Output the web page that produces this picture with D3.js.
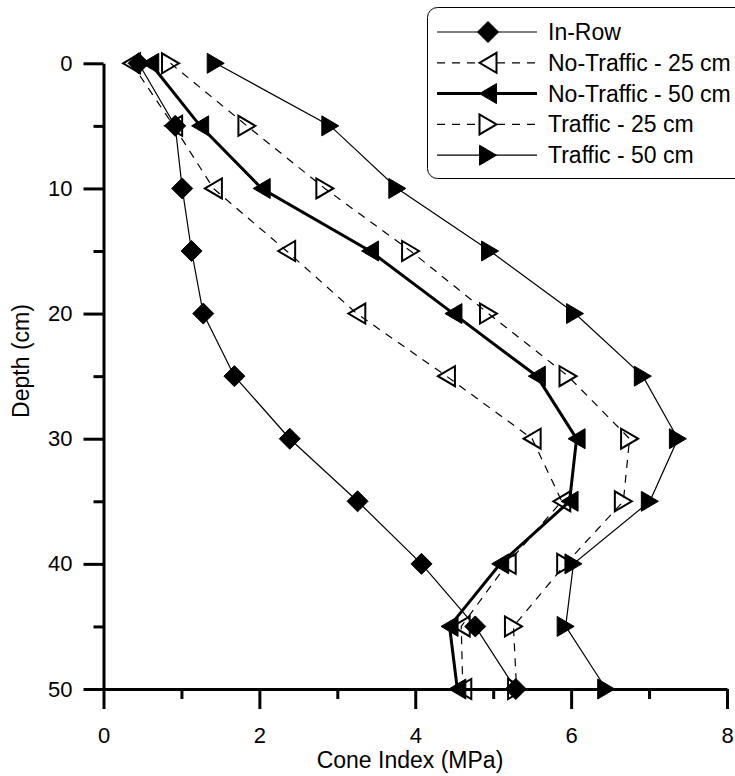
<!DOCTYPE html>
<html>
<head>
<meta charset="utf-8">
<script src="https://cdn.jsdelivr.net/npm/d3@7"></script>
<style>
  body { margin: 0; background: #fff; }
  svg text { font-family: "Liberation Sans", Arial, sans-serif; fill: #000; }
</style>
</head>
<body>
<svg id="chart" width="735" height="776"></svg>
<script>
// depth (cm) and cone index (MPa)
var depths = [0, 5, 10, 15, 20, 25, 30, 35, 40, 45, 50]
var inRow = [0.45, 0.92, 1.01, 1.13, 1.28, 1.68, 2.39, 3.26, 4.08, 4.77, 5.29]
var noTraffic25 = [0.36, 0.9, 1.41, 2.35, 3.25, 4.4, 5.5, 5.88, 5.18, 4.59, 4.61]
var noTraffic50 = [0.6, 1.24, 2.03, 3.42, 4.49, 5.56, 6.07, 5.98, 5.09, 4.44, 4.54]
var traffic25 = [0.86, 1.84, 2.84, 3.94, 4.94, 5.96, 6.75, 6.67, 5.93, 5.26, 5.3]
var traffic50 = [1.44, 2.91, 3.77, 4.96, 6.05, 6.92, 7.37, 7.01, 6.03, 5.93, 6.45]
var seriesNames = ["In-Row", "No-Traffic - 25 cm", "No-Traffic - 50 cm", "Traffic - 25 cm", "Traffic - 50 cm"]
var xTicks = [0, 2, 4, 6, 8]
var yTicks = [0, 10, 20, 30, 40, 50]

var svg = d3.select("#chart")
var x = d3.scaleLinear().domain([0, 8]).range([103.5, 727])
var y = d3.scaleLinear().domain([0, 50]).range([63.3, 689])

// marker + line style per series
var styles = [
  {values: inRow, shape: "diamond", fill: true, width: 1.2, dash: null},
  {values: noTraffic25, shape: "left", fill: false, width: 1.2, dash: "8,7"},
  {values: noTraffic50, shape: "left", fill: true, width: 3, dash: null},
  {values: traffic25, shape: "right", fill: false, width: 1.2, dash: "8,7"},
  {values: traffic50, shape: "right", fill: true, width: 1.2, dash: null}
]

function markerPath(shape) {
  if (shape == "diamond") return "M0,-10.5L10.5,0L0,10.5L-10.5,0Z"
  if (shape == "left") return "M-8.5,0L8.5,-10L8.5,10Z"
  return "M8.5,0L-8.5,-10L-8.5,10Z"
}

// axes
var gy = svg.append("g").attr("transform", "translate(" + x(0) + ",0)")
gy.call(d3.axisLeft(y).tickValues(yTicks).tickSize(20).tickSizeOuter(0).tickPadding(11))
gy.append("g").call(d3.axisLeft(y).tickValues([5, 15, 25, 35, 45]).tickSize(10).tickFormat(""))
  .select(".domain").remove()

var gx = svg.append("g").attr("transform", "translate(0," + y(50) + ")")
gx.call(d3.axisBottom(x).tickValues(xTicks).tickSize(20).tickSizeOuter(0).tickPadding(18))
gx.append("g").call(d3.axisBottom(x).tickValues([1, 3, 5, 7]).tickSize(10).tickFormat(""))
  .select(".domain").remove()

svg.selectAll(".domain").attr("stroke", "#000").attr("stroke-width", 3)
svg.selectAll(".tick line").attr("stroke", "#000").attr("stroke-width", 3)
svg.selectAll(".tick text").attr("font-size", 22).attr("font-family", "Liberation Sans, Arial, sans-serif").attr("fill", "#000")

svg.append("text")
  .attr("x", 410).attr("y", 768)
  .attr("text-anchor", "middle")
  .attr("font-size", 23)
  .text("Cone Index (MPa)")

svg.append("text")
  .attr("transform", "translate(29,361) rotate(-90)")
  .attr("text-anchor", "middle")
  .attr("font-size", 23)
  .text("Depth (cm)")

// series lines + markers
var line = d3.line().x(d => x(d[0])).y(d => y(d[1]))
styles.forEach(function(s) {
  var pts = depths.map((d, i) => [s.values[i], d])
  svg.append("path")
    .attr("d", line(pts))
    .attr("fill", "none")
    .attr("stroke", "#000")
    .attr("stroke-width", s.width)
    .attr("stroke-dasharray", s.dash)
})
styles.forEach(function(s) {
  svg.append("g").selectAll("path")
    .data(depths.map((d, i) => [s.values[i], d]))
    .join("path")
    .attr("transform", d => "translate(" + x(d[0]) + "," + y(d[1]) + ")")
    .attr("d", markerPath(s.shape))
    .attr("fill", s.fill ? "#000" : "none")
    .attr("stroke", "#000")
    .attr("stroke-width", s.fill ? 1 : 2)
})

// legend
var legend = svg.append("g")
legend.append("rect")
  .attr("x", 427.5).attr("y", 7.5)
  .attr("width", 330).attr("height", 171)
  .attr("rx", 10).attr("ry", 10)
  .attr("fill", "#fff").attr("stroke", "#000").attr("stroke-width", 1)

styles.forEach(function(s, i) {
  var cy = 32 + i * 30.8
  legend.append("line")
    .attr("x1", 437).attr("x2", 537).attr("y1", cy).attr("y2", cy)
    .attr("stroke", "#000").attr("stroke-width", s.width)
    .attr("stroke-dasharray", s.dash)
  legend.append("path")
    .attr("transform", "translate(488," + cy + ")")
    .attr("d", markerPath(s.shape))
    .attr("fill", s.fill ? "#000" : "#fff")
    .attr("stroke", "#000")
    .attr("stroke-width", s.fill ? 1 : 2)
  legend.append("text")
    .attr("x", 548).attr("y", cy + 8)
    .attr("font-size", 23)
    .text(seriesNames[i])
})
</script>
</body>
</html>
